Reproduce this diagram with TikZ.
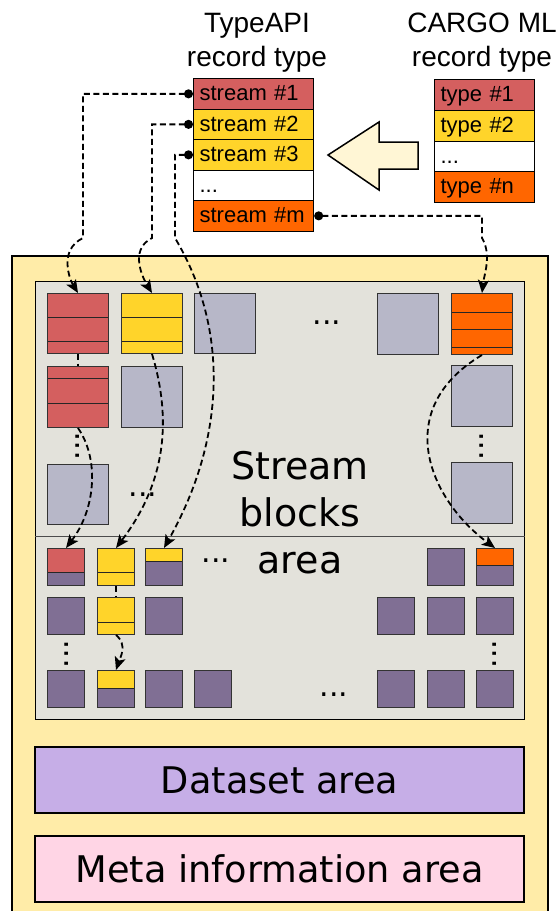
\documentclass[tikz,border=0pt]{standalone}
\usepackage{fontspec}
\setmainfont{Liberation Sans}
\newfontfamily\dejavu{DejaVu Sans}
\usetikzlibrary{arrows.meta}

\definecolor{frameyellow}{HTML}{FFECA8}
\definecolor{areagray}{HTML}{E3E2DB}
\definecolor{streamred}{HTML}{D45F5F}
\definecolor{streamyellow}{HTML}{FFD42A}
\definecolor{streamorange}{HTML}{FF6600}
\definecolor{blockgray}{HTML}{B7B7C8}
\definecolor{blockpurple}{HTML}{806F94}
\definecolor{datasetpurple}{HTML}{C6AEE7}
\definecolor{metapink}{HTML}{FFD5E5}
\definecolor{arrowcream}{HTML}{FFF6D5}

\tikzset{
  rowbox/.style={draw, line width=1.2pt, anchor=north west, inner xsep=6pt, inner ysep=0pt,
    text width=#1, align=left, minimum height=30.5pt, text height=16pt, text depth=2pt,
    font=\fontsize{22}{26}\selectfont},
  heading/.style={align=center, inner sep=0pt, font=\fontsize{28}{34}\selectfont},
  blk/.style={draw=black!80, line width=1pt, anchor=north west, inner sep=0pt,
    minimum width=61pt, minimum height=60pt},
  sq/.style={blk, minimum width=37pt, minimum height=37pt, fill=blockpurple},
  stripes/.style={path picture={\foreach \s in {#1}
    \draw[black!85, line width=1pt] ([yshift=-\s*1pt]path picture bounding box.north west)
      -- ([yshift=-\s*1pt]path picture bounding box.north east);}},
  band/.style 2 args={path picture={
    \fill[#1] (path picture bounding box.north west) rectangle ([yshift=-#2*1pt]path picture bounding box.north east);
    \draw[black!85, line width=1pt] ([yshift=-#2*1pt]path picture bounding box.north west)
      -- ([yshift=-#2*1pt]path picture bounding box.north east);}},
  area/.style={draw, line width=1.4pt, inner sep=0pt, font=\dejavu\fontsize{36.7}{42}\selectfont},
  link/.style={line width=1.8pt, dash pattern=on 6pt off 3.5pt},
  ptr/.style={link, {Circle[length=9pt]}-{Stealth[length=13pt,width=11pt,inset=3pt]}},
  flow/.style={link, -{Stealth[length=13pt,width=11pt,inset=3pt]}},
  dots/.style={inner sep=0pt, font=\dejavu\fontsize{30}{30}\selectfont},
}

\begin{document}
\begin{tikzpicture}[x=1pt,y=-1pt]
\useasboundingbox (0,0) rectangle (559,911);

% Record type tables
\node[heading] (apititle) at (257,43) {TypeAPI\\record type};
\node[heading] (cargotitle) at (482,43) {CARGO ML\\record type};
\node[rowbox=108pt, fill=streamred] (s1) at (193,78) {stream \#1};
\node[rowbox=108pt, fill=streamyellow] (s2) at (193,108.5) {stream \#2};
\node[rowbox=108pt, fill=streamyellow] (s3) at (193,139) {stream \#3};
\node[rowbox=108pt, fill=white] (sdots) at (193,169.5) {...};
\node[rowbox=108pt, fill=streamorange] (sm) at (193,200) {stream \#m};
\node[rowbox=88pt, fill=streamred] (t1) at (434,79) {type \#1};
\node[rowbox=88pt, fill=streamyellow] (t2) at (434,110) {type \#2};
\node[rowbox=88pt, fill=white] (tdots) at (434,140.5) {...};
\node[rowbox=88pt, fill=streamorange] (tn) at (434,171) {type \#n};
\draw[line width=1.5pt, fill=arrowcream, line join=miter] (328,155) -- (379,122) -- (379,142)
  -- (418,142) -- (418,169) -- (379,169) -- (379,190) -- cycle;

% Data file and its areas
\draw[line width=1.8pt, fill=frameyellow] (12,256) rectangle (548,930);
\node[area, fill=areagray, anchor=north west, minimum width=489pt, minimum height=438pt] (blocksarea) at (35,281) {};
\coordinate (divide) at (0,536);
\draw[line width=1pt, black!70] (blocksarea.west |- divide) -- (blocksarea.east |- divide);
\node[area, fill=datasetpurple, minimum width=489pt, minimum height=66pt] (dataset) at (279.5,780) {Dataset area};
\node[area, fill=metapink, minimum width=489pt, minimum height=66pt] (meta) at (279.5,869) {Meta information area};
\node[align=center, inner sep=0pt, font=\dejavu\fontsize{38}{47}\selectfont] (blockslabel) at (300,513) {Stream\\blocks\\area};

% Stream blocks
\node[blk, fill=streamred, stripes={24,48}] (r1) at (47,293) {};
\node[blk, fill=streamred, stripes={12,37}, minimum height=61pt] (r2) at (47,366) {};
\node[blk, fill=blockgray] (g1) at (47,464) {};
\node[blk, fill=streamyellow, stripes={24,48}] (y1) at (121,293) {};
\node[blk, fill=blockgray, minimum height=61pt] (g2) at (121,366) {};
\node[blk, fill=blockgray] (g3) at (194,293) {};
\node[blk, fill=blockgray, minimum height=61pt] (g4) at (377,293) {};
\node[blk, fill=streamorange, stripes={19,36,54}, minimum height=61pt] (o1) at (451,293) {};
\node[blk, fill=blockgray, minimum height=61pt] (g5) at (451,365) {};
\node[blk, fill=blockgray, minimum height=61pt] (g6) at (451,462) {};

% Small blocks
\node[sq, band={streamred}{24}] (a1) at (47,548) {};
\node[sq, fill=streamyellow, stripes={24}] (b1) at (97,548) {};
\node[sq, band={streamyellow}{13}] (c1) at (145,548) {};
\node[sq] (p1) at (427,548) {};
\node[sq, band={streamorange}{17}] (q1) at (476,548) {};
\node[sq] (a2) at (47,597) {};
\node[sq, fill=streamyellow, stripes={25}] (b2) at (97,597) {};
\node[sq] (c2) at (145,597) {};
\node[sq] (n2) at (377,597) {};
\node[sq] (p2) at (427,597) {};
\node[sq] (q2) at (476,597) {};
\node[sq] (a3) at (47,670) {};
\node[sq, band={streamyellow}{18}] (b3) at (97,670) {};
\node[sq] (c3) at (145,670) {};
\node[sq] (d3) at (194,670) {};
\node[sq] (n3) at (377,670) {};
\node[sq] (p3) at (427,670) {};
\node[sq] (q3) at (476,670) {};

% Dots
\node[dots] (dtop) at (327,323) {...};
\node[dots] (dmid) at (143,495) {...};
\node[dots, rotate=90] (dleft) at (78,446) {...};
\node[dots, rotate=90] (dright) at (482,446) {...};
\node[dots] (dlow) at (216,561) {...};
\node[dots] (dbottom) at (334,695) {...};
\node[dots, rotate=90] (dlowleft) at (67,654) {...};
\node[dots, rotate=90] (dlowright) at (495,654) {...};

% Pointers from the stream table
\draw[ptr] (s1.west) -| (83,238) .. controls (58,250) and (70,280) .. (r1.north);
\draw[ptr] (s2.west) -| (152,238) .. controls (128,250) and (144,280) .. (y1.north);
\draw[ptr] (s3.west) -| (175,238) .. controls (230,330) and (225,440) .. (c1.north);
\draw[ptr] (sm.east) -| (482,238) .. controls (492,255) and (484,275) .. (o1.north);

% Links between blocks
\draw[link] (r1.south) -- (r2.north);
\draw[flow] (r2.south) .. controls (100,460) and (95,510) .. (a1.north);
\draw[flow] (y1.south) .. controls (175,430) and (160,490) .. (b1.north);
\draw[flow] (o1.south) .. controls (390,410) and (430,500) .. (q1.north);
\draw[link] (b1.south) -- (b2.north);
\draw[flow] (b2.south) .. controls (128,645) and (120,658) .. (b3.north);
\end{tikzpicture}
\end{document}
